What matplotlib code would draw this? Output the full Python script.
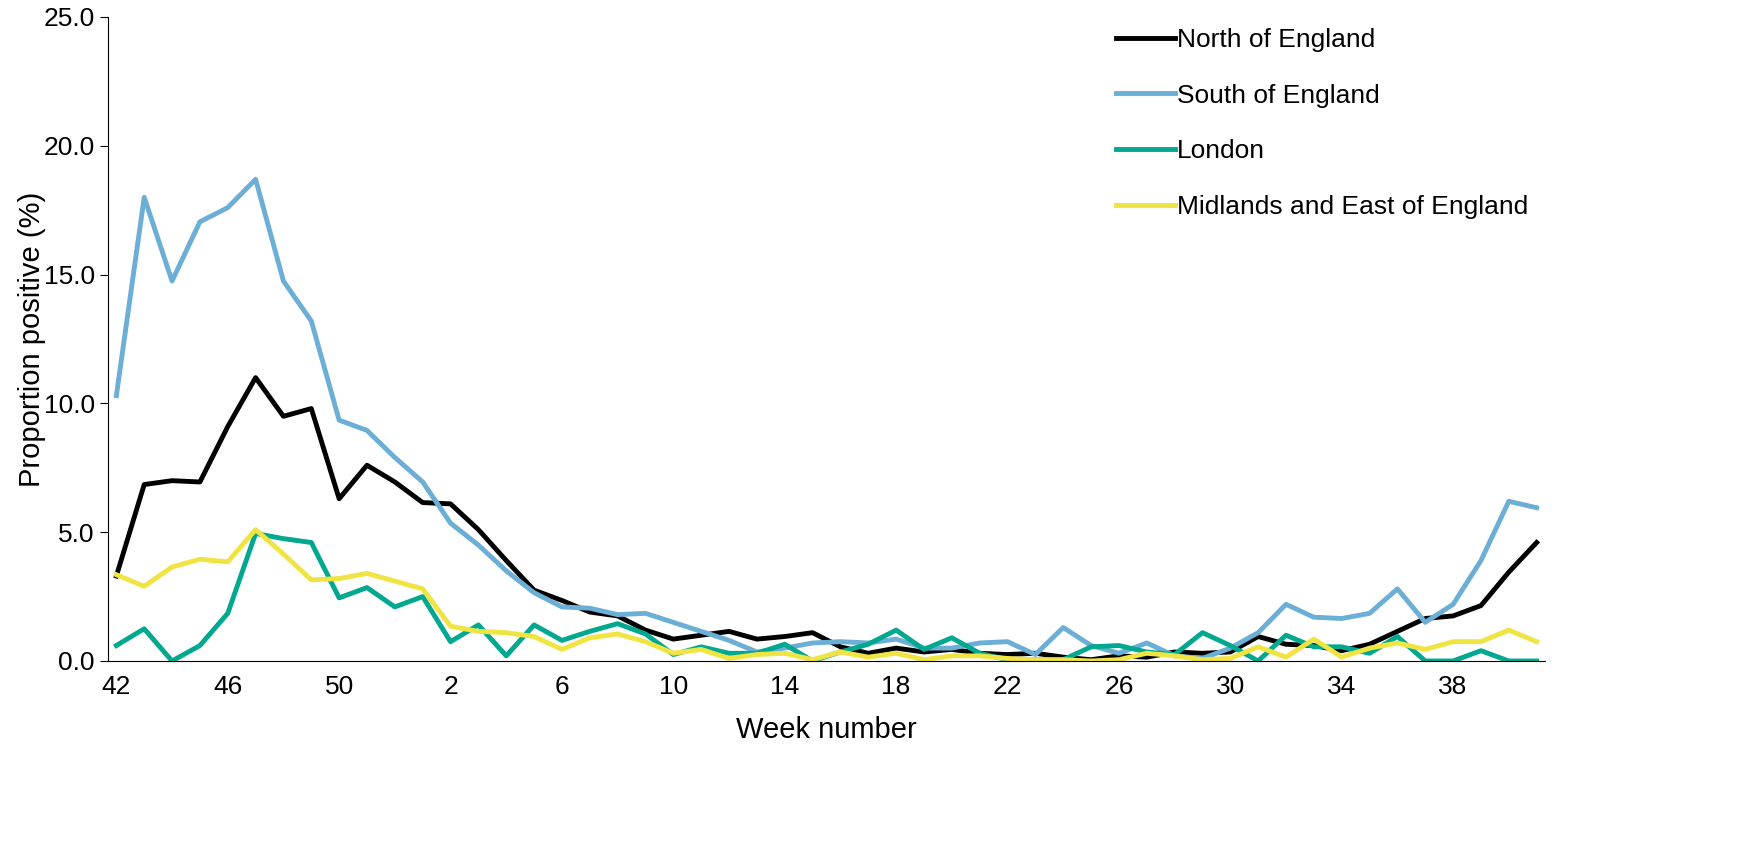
import matplotlib
matplotlib.use("Agg")
import matplotlib.pyplot as plt

weeks = list(range(42, 53)) + list(range(1, 42))
north = [3.3, 6.85, 7.0, 6.95, 9.1, 11.0, 9.5, 9.8, 6.3, 7.6, 6.95, 6.15, 6.1, 5.1, 3.9, 2.75, 2.35, 1.9, 1.75, 1.2, 0.85, 1.0, 1.15, 0.85, 0.95, 1.1, 0.55, 0.3, 0.5, 0.35, 0.45, 0.3, 0.25, 0.3, 0.15, 0.05, 0.2, 0.15, 0.35, 0.3, 0.35, 0.95, 0.65, 0.6, 0.4, 0.65, 1.15, 1.65, 1.75, 2.15, 3.45, 4.6]
south = [10.3, 18.0, 14.75, 17.05, 17.6, 18.7, 14.75, 13.2, 9.35, 8.95, 7.9, 6.95, 5.35, 4.5, 3.5, 2.65, 2.1, 2.05, 1.8, 1.85, 1.5, 1.15, 0.8, 0.35, 0.5, 0.7, 0.75, 0.7, 0.85, 0.5, 0.5, 0.7, 0.75, 0.25, 1.3, 0.6, 0.3, 0.7, 0.2, 0.1, 0.5, 1.1, 2.2, 1.7, 1.65, 1.85, 2.8, 1.5, 2.2, 3.9, 6.2, 5.95]
london = [0.6, 1.25, 0.0, 0.6, 1.85, 4.95, 4.75, 4.6, 2.45, 2.85, 2.1, 2.5, 0.75, 1.4, 0.2, 1.4, 0.8, 1.15, 1.45, 1.05, 0.25, 0.55, 0.3, 0.3, 0.65, 0.0, 0.35, 0.65, 1.2, 0.45, 0.9, 0.3, 0.05, 0.05, 0.05, 0.55, 0.6, 0.35, 0.25, 1.1, 0.6, 0.0, 1.0, 0.55, 0.55, 0.3, 0.95, 0.0, 0.0, 0.4, 0.0, 0.0]
midlands = [3.35, 2.9, 3.65, 3.95, 3.85, 5.1, 4.15, 3.15, 3.2, 3.4, 3.1, 2.8, 1.35, 1.15, 1.1, 0.95, 0.45, 0.9, 1.05, 0.75, 0.3, 0.45, 0.1, 0.25, 0.3, 0.05, 0.35, 0.15, 0.3, 0.05, 0.2, 0.2, 0.1, 0.05, 0.05, 0.0, 0.05, 0.3, 0.2, 0.05, 0.1, 0.55, 0.15, 0.85, 0.15, 0.5, 0.7, 0.45, 0.75, 0.75, 1.2, 0.75]
series = [("North of England", north, "#000000"),
          ("South of England", south, "#6baed6"),
          ("London", london, "#00a88f"),
          ("Midlands and East of England", midlands, "#f0e442")]

plt.rcParams['font.family'] = ['Liberation Sans', 'DejaVu Sans']
fig = plt.figure(figsize=(17.5, 8.43), dpi=100)
ax = fig.add_axes([108/1750, 1-661/843, 1437/1750, 644/843])
x = list(range(len(weeks)))
for name, vals, c in series:
    ax.plot(x, vals, color=c, lw=3.5, label=name)
ax.set_xlim(-0.3, len(weeks)-0.7)
ax.set_ylim(0, 25)
ax.set_yticks([0, 5, 10, 15, 20, 25])
ax.set_yticklabels([f"{v:.1f}" for v in [0, 5, 10, 15, 20, 25]])
ax.set_xticks(x[::4])
ax.set_xticklabels([str(w) for w in weeks[::4]])
ax.tick_params(labelsize=19, length=6)
ax.tick_params(axis='x', length=0, pad=10)
for s in ['top', 'right']:
    ax.spines[s].set_visible(False)
ax.set_xlabel("Week number", fontsize=21, labelpad=12)
ax.set_ylabel("Proportion positive (%)", fontsize=21, labelpad=-2)
ax.legend(loc='upper right', bbox_to_anchor=(1.005, 1.02), frameon=False, fontsize=19,
          handlelength=2.2, labelspacing=1.2, handletextpad=0.1)
fig.savefig("out.png", dpi=100)
